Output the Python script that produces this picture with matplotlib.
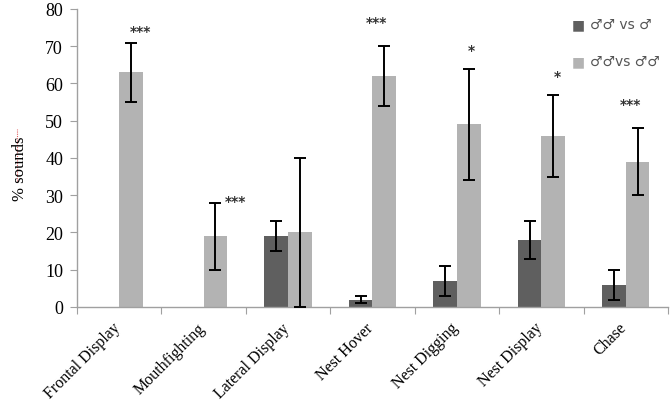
import matplotlib.pyplot as plt
import matplotlib.transforms as mtransforms
import numpy as np

# behaviours and % of sounds (mean, lower and upper error limits)
categories = ['Frontal Display', 'Mouthfighting', 'Lateral Display',
              'Nest Hover', 'Nest Digging', 'Nest Display', 'Chase']

male_vs_male = [0, 0, 19, 2, 7, 18, 6]
male_vs_male_lo = [0, 0, 15, 1, 3, 13, 2]
male_vs_male_hi = [0, 0, 23, 3, 11, 23, 10]
has_male_bar = [False, False, True, True, True, True, True]

males_vs_males = [63, 19, 20, 62, 49, 46, 39]
males_vs_males_lo = [55, 10, 0, 54, 34, 35, 30]
males_vs_males_hi = [71, 28, 40, 70, 64, 57, 48]

stars = ['***', '***', '', '***', '*', '*', '***']
star_y = [74, 28.5, 0, 76.5, 69, 62, 54.5]
star_dx = [0.25, 0.38, 0, 0.05, 0.17, 0.19, 0.06]

DARK = '#5f5f5f'
LIGHT = '#b3b3b3'
SPINE = '#a0a0a0'

plt.rcParams['font.family'] = ['Liberation Serif', 'DejaVu Serif']

fig = plt.figure(figsize=(6.72, 4.06), dpi=100)
ax = fig.add_axes([0.1146, 0.2414, 0.8794, 0.734])

x = np.arange(len(categories))
width = 0.28

# dark bars (only where present)
mask = np.array(has_male_bar)
xs = x[mask]
vals = np.array(male_vs_male)[mask]
lo = vals - np.array(male_vs_male_lo)[mask]
hi = np.array(male_vs_male_hi)[mask] - vals
ax.bar(xs - width / 2, vals, width, color=DARK, zorder=2)
ax.errorbar(xs - width / 2, vals, yerr=[lo, hi], fmt='none', ecolor='black',
            elinewidth=1.4, capsize=4, capthick=1.4, zorder=3)

vals2 = np.array(males_vs_males)
lo2 = vals2 - np.array(males_vs_males_lo)
hi2 = np.array(males_vs_males_hi) - vals2
ax.bar(x + width / 2, vals2, width, color=LIGHT, zorder=2)
ax.errorbar(x + width / 2, vals2, yerr=[lo2, hi2], fmt='none', ecolor='black',
            elinewidth=1.4, capsize=4, capthick=1.4, zorder=3)

for i, s in enumerate(stars):
    if s:
        ax.text(x[i] + star_dx[i], star_y[i], s, ha='center', va='center',
                fontsize=10, fontweight='bold', family=['DejaVu Sans'],
                color='#333333')

ax.set_xlim(-0.5, len(categories) - 0.5)
ax.set_ylim(0, 80)
ax.set_yticks(range(0, 81, 10))
ax.tick_params(axis='y', direction='out', length=5, color=SPINE,
               labelsize=13, pad=5)

# category ticks sit on the boundaries, labels at the centres
ax.set_xticks(np.arange(-0.5, len(categories)), minor=False)
ax.set_xticklabels([])
ax.set_xticks(x, minor=True)
ax.set_xticklabels(categories, minor=True, rotation=45, ha='right',
                   va='top', rotation_mode='anchor', fontsize=11.5)
ax.tick_params(axis='x', which='major', direction='out', length=5,
               color=SPINE)
ax.tick_params(axis='x', which='minor', length=0, pad=9)
shift = mtransforms.ScaledTranslation(-5 / 72, 0, fig.dpi_scale_trans)
for lab in ax.get_xticklabels(minor=True):
    lab.set_transform(lab.get_transform() + shift)

for side in ['top', 'right']:
    ax.spines[side].set_visible(False)
for side in ['left', 'bottom']:
    ax.spines[side].set_color(SPINE)
    ax.spines[side].set_linewidth(1)

# y label with the spell-check underline
fig.text(0.03, 0.585, '% sounds', rotation=90, ha='center', va='center',
         fontsize=12)
fig.lines.append(plt.Line2D([0.026, 0.026], [0.552, 0.68], transform=fig.transFigure,
                            color='#e06060', lw=0.8, linestyle=(0, (1, 1))))

# legend drawn as in the original
leg_font = ['DejaVu Sans']
for yy, col, label in [(0.938, DARK, '\u2642\u2642 vs \u2642'),
                       (0.847, LIGHT, '\u2642\u2642vs \u2642\u2642')]:
    fig.text(0.86, yy, '\u25a0', color=col, fontsize=10, ha='center',
             va='center', family=leg_font)
    fig.text(0.878, yy, label, color='#555555', fontsize=10,
             ha='left', va='center', family=leg_font)

fig.savefig('out.png', dpi=100)
